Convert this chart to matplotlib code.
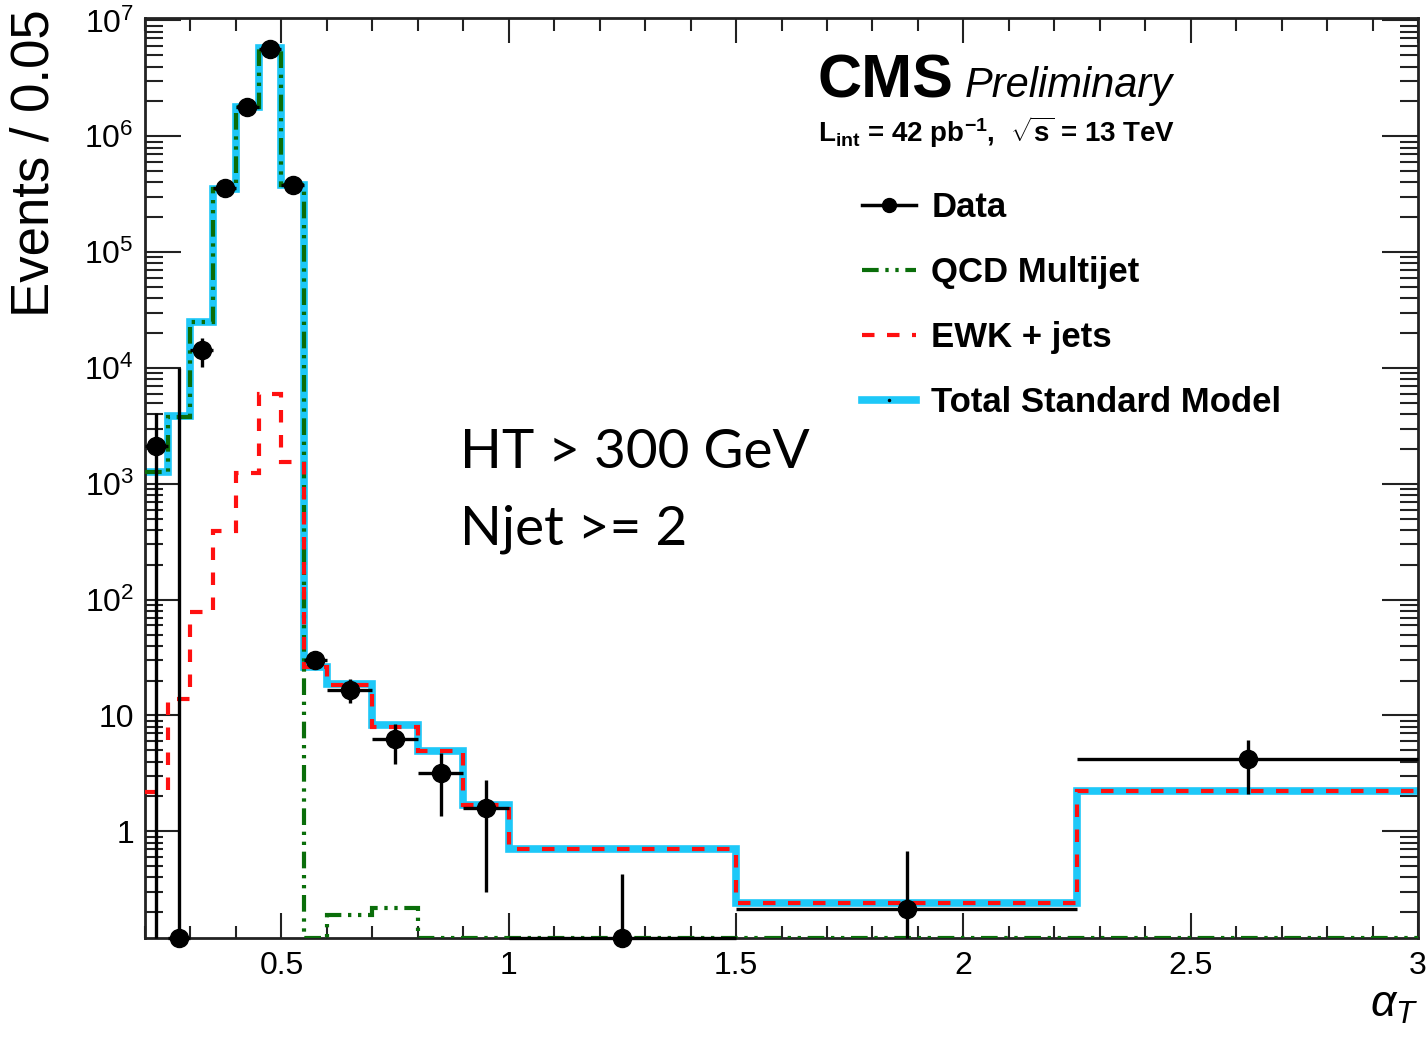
import numpy as np
import matplotlib
matplotlib.use("Agg")
import matplotlib.pyplot as plt
from matplotlib.ticker import LogLocator, MultipleLocator, FuncFormatter, NullFormatter
from matplotlib.lines import Line2D

# ---- binning and contents -------------------------------------------------
bin_edges = [0.20, 0.25, 0.30, 0.35, 0.40, 0.45, 0.50, 0.55, 0.60,
             0.70, 0.80, 0.90, 1.00, 1.50, 2.25, 3.00]
qcd_multijet = [1260, 3800, 25000, 3.5e5, 1.78e6, 5.8e6, 3.8e5, 0,
                0.19, 0.22, 0, 0, 0, 0, 0]
ewk_jets = [2.2, 14, 78, 390, 1230, 6000, 1550, 26,
            18.5, 8.0, 4.9, 1.7, 0.70, 0.24, 2.25]
data_counts = [2100, 0, 14300, 3.6e5, 1.8e6, 5.7e6, 3.8e5, 30,
               16.6, 6.3, 3.2, 1.6, 0, 0.214, 4.2]
data_err_lo = [2100, 0, 4100, 3000, 8000, 15000, 3000, 4,
               3.7, 2.5, 1.85, 1.3, 0, 0.214, 2.1]
data_err_hi = [2000, 10000, 4000, 3000, 8000, 15000, 3000, 4,
               4.0, 2.1, 1.5, 1.2, 0.43, 0.46, 2.0]

x_ticks = [0.5, 1.0, 1.5, 2.0, 2.5, 3.0]
YMIN, YMAX = 0.12, 1.05e7

# ---- style -----------------------------------------------------------------
plt.rcParams["font.family"] = ["Liberation Sans", "DejaVu Sans"]
plt.rcParams["mathtext.fontset"] = "custom"
plt.rcParams["mathtext.rm"] = "Liberation Sans"
plt.rcParams["mathtext.bf"] = "Liberation Sans:bold"
plt.rcParams["mathtext.it"] = "Liberation Sans:italic"

CYAN = "#1ec8f8"
RED = "#ff1010"
GREEN = "#0a6e0a"

fig = plt.figure(figsize=(14.27, 10.39), dpi=100)
ax = fig.add_axes([145 / 1427, 1 - 938 / 1039, (1418 - 145) / 1427, (938 - 18) / 1039])

edges = np.array(bin_edges)
qcd = np.array(qcd_multijet, dtype=float)
ewk = np.array(ewk_jets, dtype=float)
total = qcd + ewk

# empty bins sit on the lower frame edge, as in ROOT log plots
def floor(v):
    return np.clip(v, YMIN, None)

ax.stairs(floor(total), edges, baseline=None, color=CYAN, lw=5.5, zorder=2)
ax.stairs(floor(qcd), edges, baseline=None, color=GREEN, lw=3,
          linestyle=(0, (4, 1.6, 0.8, 1.6, 0.8, 1.6)), zorder=3)
ax.stairs(floor(ewk), edges, baseline=None, color=RED, lw=3,
          linestyle=(0, (3, 3)), zorder=4)

centers = 0.5 * (edges[:-1] + edges[1:])
halfw = 0.5 * (edges[1:] - edges[:-1])
d = np.array(data_counts, dtype=float)
elo = np.array(data_err_lo, dtype=float)
ehi = np.array(data_err_hi, dtype=float)
y_pt = floor(d)
yerr_lo = y_pt - floor(d - elo)
yerr_hi = (d + ehi) - y_pt
ax.errorbar(centers, y_pt, xerr=halfw, yerr=[yerr_lo, yerr_hi], fmt="o",
            color="black", ms=13, elinewidth=2.4, capsize=0, zorder=6,
            clip_on=False)

# ---- axes ------------------------------------------------------------------
ax.set_yscale("log")
ax.set_xlim(edges[0], edges[-1])
ax.set_ylim(YMIN, YMAX)

ax.xaxis.set_major_locator(plt.FixedLocator(x_ticks))
ax.xaxis.set_minor_locator(MultipleLocator(0.1))
ax.xaxis.set_major_formatter(FuncFormatter(lambda v, p: f"{v:g}"))

def yfmt(v, pos):
    e = int(round(np.log10(v)))
    if e == 0:
        return "1"
    if e == 1:
        return "10"
    return rf"$10^{{{e}}}$"

ax.yaxis.set_major_locator(plt.FixedLocator([10.0 ** k for k in range(0, 8)]))
ax.yaxis.set_minor_locator(LogLocator(base=10, subs=np.arange(2, 10), numticks=40))
ax.yaxis.set_major_formatter(FuncFormatter(yfmt))
ax.yaxis.set_minor_formatter(NullFormatter())

ax.tick_params(which="both", direction="in", top=True, right=True,
               width=1.5, colors="#222222", labelcolor="black")
ax.tick_params(axis="x", which="major", length=18, labelsize=23, pad=9)
ax.tick_params(axis="x", which="minor", length=9)
ax.tick_params(axis="y", which="major", length=26, labelsize=23, pad=8)
ax.tick_params(axis="y", which="minor", length=13)
for s in ax.spines.values():
    s.set_linewidth(2)
    s.set_color("#222222")

fig.text(35 / 1427, 1 - 9 / 1039, "Events / 0.05", rotation=90,
         ha="center", va="top", fontsize=38)
fig.text(1418 / 1427, 1 - 985 / 1039, r"$\alpha_{T}$", ha="right",
         va="top", fontsize=32)

# ---- labels ----------------------------------------------------------------
fig.text(818 / 1427, 1 - 97 / 1039, "CMS", fontsize=44, fontweight="bold",
         ha="left", va="baseline")
fig.text(965 / 1427, 1 - 97 / 1039, "Preliminary", fontsize=30,
         fontstyle="italic", ha="left", va="baseline")
fig.text(818 / 1427, 1 - 142 / 1039,
         r"L$_{\mathbf{int}}$ = 42 pb$^{\mathbf{-1}}$,  $\mathbf{\sqrt{s}}$ = 13 TeV",
         fontsize=20, fontweight="bold", ha="left", va="baseline")

fig.text(460 / 1427, 1 - 468 / 1039, "HT > 300 GeV", family="Lato",
         fontsize=39.5, ha="left", va="baseline")
fig.text(460 / 1427, 1 - 545 / 1039, "Njet >= 2", family="Lato",
         fontsize=39.5, ha="left", va="baseline")

handles = [
    Line2D([], [], color="black", lw=2.5, marker="o", ms=10),
    Line2D([], [], color=GREEN, lw=3, linestyle=(0, (4, 1.6, 0.8, 1.6, 0.8, 1.6))),
    Line2D([], [], color=RED, lw=3, linestyle=(0, (3, 3))),
    Line2D([], [], color=CYAN, lw=5.5, marker=".", ms=3, mfc="black", mec="black"),
]
labels = ["Data", "QCD Multijet", "EWK + jets", "Total Standard Model"]
ax.legend(handles, labels, loc="upper left",
          bbox_to_anchor=(862 / 1427, 1 - 191 / 1039),
          bbox_transform=fig.transFigure, frameon=False,
          prop={"size": 25, "weight": "bold"}, handlelength=1.55,
          handletextpad=0.45, labelspacing=0.92, borderpad=0,
          borderaxespad=0)

fig.savefig("out.png", dpi=100)
